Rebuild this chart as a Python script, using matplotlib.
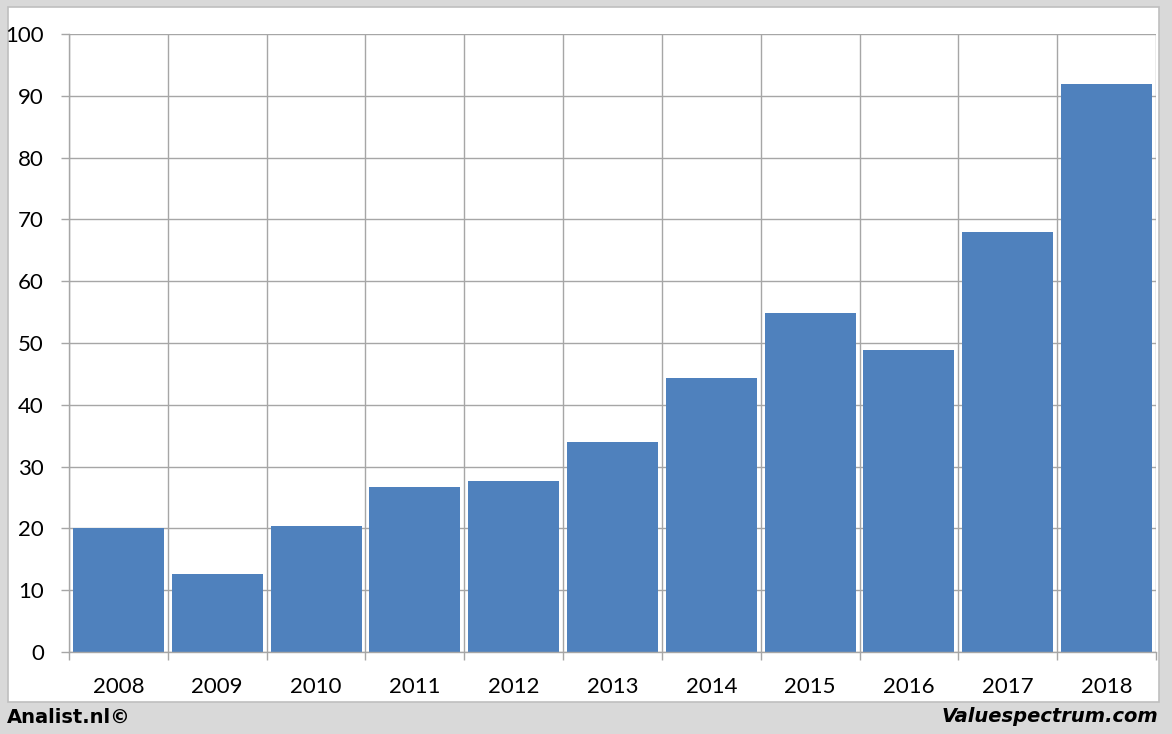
import matplotlib.pyplot as plt
from matplotlib.patches import Rectangle
import numpy as np

# Data
years = ['2008', '2009', '2010', '2011', '2012', '2013', '2014', '2015', '2016', '2017', '2018']
values = [20.1, 12.6, 20.4, 26.7, 27.7, 34.0, 44.3, 54.9, 48.8, 68.0, 91.9]
y_ticks = [0, 10, 20, 30, 40, 50, 60, 70, 80, 90, 100]

W, H = 1172, 734
fig = plt.figure(figsize=(W / 100, H / 100), dpi=100, facecolor='#d9d9d9')
plt.rcParams['font.family'] = ['Lato', 'DejaVu Sans']

# White panel behind the chart
fig.patches.append(Rectangle((8 / W, 1 - 702 / H), (1159 - 8) / W, (702 - 7) / H,
                             transform=fig.transFigure, facecolor='white',
                             edgecolor='#bfbfbf', linewidth=1.2, zorder=-5))

ax = fig.add_axes([69 / W, 1 - 652 / H, (1156 - 69) / W, (652 - 34) / H])
ax.set_facecolor('none')

x = np.arange(len(years))
ax.bar(x, values, width=0.92, color='#4f81bd', zorder=2)

ax.set_xlim(-0.5, len(years) - 0.5)
ax.set_ylim(0, 100)
ax.set_yticks(y_ticks)
ax.set_xticks(x)
ax.set_xticklabels(years)
ax.set_xticks(np.arange(-0.5, len(years)), minor=True)

grid_color = '#a6a6a6'
ax.set_axisbelow(True)
ax.grid(axis='y', which='major', color=grid_color, linewidth=1)
ax.grid(axis='x', which='minor', color=grid_color, linewidth=1)

ax.tick_params(axis='x', which='major', length=0, pad=18, labelsize=16)
ax.tick_params(axis='x', which='minor', length=6, color=grid_color, width=1)
ax.tick_params(axis='y', length=6, color=grid_color, width=1, pad=12, labelsize=16)

for s in ['top', 'right']:
    ax.spines[s].set_visible(False)
for s in ['left', 'bottom']:
    ax.spines[s].set_color(grid_color)
    ax.spines[s].set_linewidth(1)
    ax.spines[s].set_zorder(3)

fig.text(7 / W, 1 - 717 / H, 'Analist.nl©', ha='left', va='center',
         fontsize=14, fontweight='bold', color='black', family='DejaVu Sans')
fig.text(1158 / W, 1 - 717 / H, 'Valuespectrum.com', ha='right', va='center',
         fontsize=14, fontweight='bold', fontstyle='italic', color='black',
         family='DejaVu Sans')

fig.savefig('out.png', dpi=100, facecolor=fig.get_facecolor())
